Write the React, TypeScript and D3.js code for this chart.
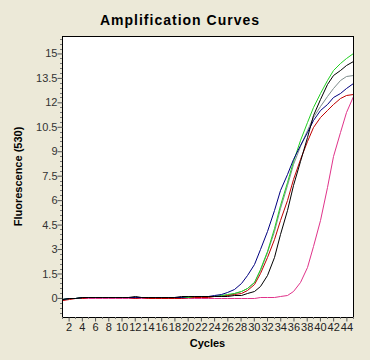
import React from 'react';
import * as d3 from 'd3';

const cycles = d3.range(1, 46);

const greenCurve = [
  -0.05, 0.0, 0.02, 0.03, 0.03, 0.04, 0.04, 0.04, 0.04, 0.05,
  0.05, 0.06, 0.06, 0.06, 0.06, 0.07, 0.07, 0.07, 0.08, 0.08,
  0.09, 0.1, 0.12, 0.14, 0.17, 0.22, 0.3, 0.42, 0.62, 1.0,
  1.8, 2.9, 4.3, 5.7, 7.1, 8.4, 9.7, 10.8, 11.7, 12.6,
  13.4, 14.0, 14.4, 14.75, 15.05,
];
const grayCurve = [
  -0.04, 0.0, 0.02, 0.03, 0.04, 0.04, 0.04, 0.05, 0.05, 0.05,
  0.05, 0.05, 0.06, 0.06, 0.06, 0.06, 0.07, 0.07, 0.07, 0.08,
  0.08, 0.09, 0.11, 0.13, 0.16, 0.2, 0.28, 0.4, 0.6, 0.95,
  1.7, 2.8, 4.1, 5.5, 6.9, 8.2, 9.3, 10.3, 11.1, 11.8,
  12.4, 12.9, 13.35, 13.6, 13.7,
];
const redCurve = [
  -0.15, -0.05, 0.0, 0.02, 0.03, 0.03, 0.03, 0.03, 0.04, 0.04,
  0.04, 0.0, 0.03, 0.0, 0.0, 0.0, 0.0, 0.0, 0.02, 0.04,
  0.05, 0.06, 0.08, 0.1, 0.12, 0.15, 0.22, 0.32, 0.5, 0.85,
  1.5, 2.5, 3.6, 4.8, 6.0, 7.3, 8.5, 9.6, 10.5, 11.1,
  11.5, 11.9, 12.25, 12.45, 12.5,
];
const blackCurve = [
  -0.05, 0.0, 0.02, 0.03, 0.03, 0.03, 0.04, 0.04, 0.04, 0.05,
  0.06, 0.12, 0.08, 0.08, 0.08, 0.08, 0.08, 0.08, 0.09, 0.09,
  0.09, 0.09, 0.09, 0.1, 0.1, 0.1, 0.15, 0.2, 0.3, 0.45,
  0.75, 1.4, 2.5, 3.9, 5.4, 6.9, 8.4, 9.9, 11.2, 12.2,
  13.1, 13.7, 14.0, 14.3, 14.56,
];
const navyCurve = [
  -0.05, 0.0, 0.02, 0.03, 0.03, 0.04, 0.04, 0.04, 0.04, 0.05,
  0.05, 0.06, 0.06, 0.06, 0.07, 0.07, 0.07, 0.08, 0.08, 0.09,
  0.09, 0.1, 0.12, 0.16, 0.23, 0.35, 0.55, 0.9, 1.4, 2.1,
  3.0, 4.1, 5.4, 6.6, 7.6, 8.5, 9.4, 10.2, 10.9, 11.5,
  11.9, 12.3, 12.6, 12.9, 13.17,
];
const magentaCurve = [
  -0.1, -0.02, 0.0, 0.01, 0.01, 0.01, 0.01, 0.01, 0.01, 0.01,
  0.01, 0.01, 0.01, 0.01, 0.01, 0.01, 0.01, 0.01, 0.01, 0.01,
  0.01, 0.01, 0.01, 0.01, 0.01, 0.01, 0.01, 0.01, 0.02, 0.02,
  0.03, 0.04, 0.06, 0.1, 0.2, 0.45, 0.95, 1.9, 3.2, 4.8,
  6.8, 8.7, 10.2, 11.4, 12.4,
];

const seriesList = [
  { name: 'magenta', color: '#e0338a', values: magentaCurve },
  { name: 'gray', color: '#7d8c8c', values: grayCurve },
  { name: 'red', color: '#c00000', values: redCurve },
  { name: 'green', color: '#22d022', values: greenCurve },
  { name: 'navy', color: '#000080', values: navyCurve },
  { name: 'black', color: '#000000', values: blackCurve },
];

const yTicks = d3.range(0, 15.01, 1.5);
const xTicks = d3.range(2, 45, 2);

const App: React.FC = () => {
  const svgRef = React.useRef<SVGSVGElement | null>(null);
  const width = 370;
  const height = 360;
  const plot = { left: 62, right: 353, top: 36, bottom: 317 };

  React.useEffect(() => {
    const svg = d3.select(svgRef.current);
    svg.selectAll('*').remove();

    svg.append('rect').attr('width', width).attr('height', height).attr('fill', '#ece9d8');

    const x = d3.scaleLinear().domain([1, 45]).range([plot.left, plot.right]);
    const y = d3.scaleLinear().domain([-1.17, 16.07]).range([plot.bottom, plot.top]);

    svg
      .append('rect')
      .attr('x', plot.left + 0.5)
      .attr('y', plot.top + 0.5)
      .attr('width', plot.right - plot.left)
      .attr('height', plot.bottom - plot.top)
      .attr('fill', '#fff');

    const line = d3
      .line<number>()
      .x((_, i) => Math.round(x(cycles[i])) + 0.5)
      .y((d) => Math.round(y(d)) + 0.5);

    const g = svg.append('g');
    seriesList.forEach((s) => {
      g.append('path')
        .datum(s.values)
        .attr('d', line)
        .attr('fill', 'none')
        .attr('stroke', s.color)
        .attr('stroke-width', 1);
    });

    // frame
    svg
      .append('rect')
      .attr('x', plot.left + 0.5)
      .attr('y', plot.top + 0.5)
      .attr('width', plot.right - plot.left)
      .attr('height', plot.bottom - plot.top)
      .attr('fill', 'none')
      .attr('stroke', '#000');

    // y axis
    const yAxis = d3
      .axisLeft(y)
      .tickValues(yTicks)
      .tickSize(5)
      .tickFormat((d) => String(d));
    const ya = svg.append('g').attr('transform', `translate(${plot.left + 0.5},0)`).call(yAxis);
    ya.select('.domain').remove();
    ya.selectAll('line').attr('stroke', '#555');
    ya.selectAll('text')
      .attr('font-family', '"Liberation Sans", Arial, sans-serif')
      .attr('font-size', 11)
      .attr('fill', '#333')
      .attr('x', -5);

    const yMinor = d3.range(-0.9, 16.0, 0.3).filter((v) => Math.abs(v / 1.5 - Math.round(v / 1.5)) > 0.01);
    svg
      .append('g')
      .selectAll('line')
      .data(yMinor)
      .join('line')
      .attr('x1', plot.left - 2)
      .attr('x2', plot.left)
      .attr('y1', (d) => Math.round(y(d)) + 0.5)
      .attr('y2', (d) => Math.round(y(d)) + 0.5)
      .attr('stroke', '#777');

    // x axis
    const xAxis = d3
      .axisBottom(x)
      .tickValues(xTicks)
      .tickSize(4)
      .tickFormat((d) => String(d));
    const xa = svg.append('g').attr('transform', `translate(0,${plot.bottom + 0.5})`).call(xAxis);
    xa.select('.domain').remove();
    xa.selectAll('line').attr('stroke', '#555');
    xa.selectAll('text')
      .attr('font-family', '"Liberation Sans", Arial, sans-serif')
      .attr('font-size', 11)
      .attr('fill', '#222')
      .attr('y', 6);

    const xMinor = d3.range(1, 46, 2);
    svg
      .append('g')
      .selectAll('line')
      .data(xMinor)
      .join('line')
      .attr('x1', (d) => Math.round(x(d)) + 0.5)
      .attr('x2', (d) => Math.round(x(d)) + 0.5)
      .attr('y1', plot.bottom)
      .attr('y2', plot.bottom + 2)
      .attr('stroke', '#777');

    svg
      .append('text')
      .attr('x', 180)
      .attr('y', 25)
      .attr('text-anchor', 'middle')
      .attr('font-family', '"Liberation Sans", Arial, sans-serif')
      .attr('font-weight', 'bold')
      .attr('font-size', 14)
      .attr('letter-spacing', 1)
      .text('Amplification Curves');

    svg
      .append('text')
      .attr('x', (plot.left + plot.right) / 2)
      .attr('y', 347)
      .attr('text-anchor', 'middle')
      .attr('font-family', '"Liberation Sans", Arial, sans-serif')
      .attr('font-weight', 'bold')
      .attr('font-size', 11)
      .text('Cycles');

    svg
      .append('text')
      .attr('transform', `translate(22,${(plot.top + plot.bottom) / 2}) rotate(-90)`)
      .attr('text-anchor', 'middle')
      .attr('font-family', '"Liberation Sans", Arial, sans-serif')
      .attr('font-weight', 'bold')
      .attr('font-size', 11)
      .text('Fluorescence (530)');
  }, []);

  return (
    <svg
      ref={svgRef}
      width={width}
      height={height}
      style={{ position: 'absolute', left: 0, top: 0, display: 'block' }}
    />
  );
};

export default App;
